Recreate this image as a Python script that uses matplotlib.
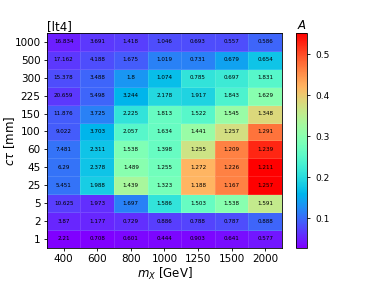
import numpy as np
import matplotlib
matplotlib.use("Agg")
import matplotlib.pyplot as plt

masses = ["400", "600", "800", "1000", "1250", "1500", "2000"]
ctaus = ["1000", "500", "300", "225", "150", "100", "60", "45", "25", "5", "2", "1"]

# acceptance (colour), rows top -> bottom
acc = np.array([
    [0.049, 0.065, 0.070, 0.080, 0.080, 0.080, 0.096],
    [0.065, 0.080, 0.091, 0.117, 0.117, 0.143, 0.175],
    [0.080, 0.096, 0.133, 0.169, 0.211, 0.222, 0.248],
    [0.065, 0.096, 0.159, 0.196, 0.190, 0.238, 0.300],
    [0.091, 0.117, 0.211, 0.264, 0.248, 0.316, 0.384],
    [0.091, 0.159, 0.248, 0.264, 0.316, 0.374, 0.473],
    [0.107, 0.175, 0.290, 0.264, 0.369, 0.463, 0.526],
    [0.107, 0.175, 0.300, 0.274, 0.421, 0.463, 0.552],
    [0.107, 0.185, 0.332, 0.280, 0.421, 0.463, 0.552],
    [0.070, 0.059, 0.117, 0.211, 0.264, 0.300, 0.358],
    [0.054, 0.054, 0.059, 0.070, 0.075, 0.080, 0.096],
    [0.028, 0.028, 0.033, 0.033, 0.033, 0.038, 0.044],
])

# numbers printed in the cells
labels = [
    ["16.834", "3.691", "1.418", "1.046", "0.693", "0.557", "0.586"],
    ["17.162", "4.188", "1.675", "1.019", "0.731", "0.679", "0.654"],
    ["15.378", "3.488", "1.8", "1.074", "0.785", "0.697", "1.831"],
    ["20.659", "5.498", "3.244", "2.178", "1.917", "1.843", "1.629"],
    ["11.876", "3.725", "2.225", "1.813", "1.522", "1.545", "1.348"],
    ["9.022", "3.703", "2.057", "1.634", "1.441", "1.257", "1.291"],
    ["7.481", "2.311", "1.538", "1.398", "1.255", "1.209", "1.239"],
    ["6.29", "2.378", "1.489", "1.255", "1.272", "1.226", "1.211"],
    ["5.451", "1.988", "1.439", "1.323", "1.188", "1.167", "1.257"],
    ["10.625", "1.973", "1.697", "1.586", "1.503", "1.538", "1.591"],
    ["3.87", "1.177", "0.729", "0.886", "0.788", "0.787", "0.888"],
    ["2.21", "0.708", "0.601", "0.444", "0.903", "0.641", "0.577"],
]

fig = plt.figure(figsize=(3.78, 2.84), dpi=100)
ax = fig.add_axes([0.124, 0.127, 0.622, 0.757])
cax = fig.add_axes([0.783, 0.127, 0.029, 0.757])

nr, nc = acc.shape
mesh = ax.pcolormesh(np.arange(nc + 1), np.arange(nr + 1), acc[::-1], cmap="rainbow",
                     vmin=0.028, vmax=0.552, edgecolors=(1, 1, 1, 0.12), linewidth=0.4)
for i in range(nr):
    for j in range(nc):
        ax.text(j + 0.5, nr - i - 0.5, labels[i][j], ha="center", va="center", fontsize=4.1)

ax.set_xticks(np.arange(nc) + 0.5)
ax.set_xticklabels(masses)
ax.set_yticks(np.arange(nr) + 0.5)
ax.set_yticklabels(ctaus[::-1])
ax.tick_params(labelsize=7.5, length=2.5, width=0.6, pad=2)
ax.set_xlabel("$m_X$ [GeV]", fontsize=8.5, labelpad=1)
ax.set_ylabel(r"$c\tau$ [mm]", fontsize=8.5)
ax.yaxis.set_label_coords(-0.125, 0.5)
ax.set_title("[lt4]", loc="left", fontsize=8.5, pad=2)
for s in ax.spines.values():
    s.set_linewidth(0.6)

cb = fig.colorbar(mesh, cax=cax)
cb.set_ticks([0.1, 0.2, 0.3, 0.4, 0.5])
cb.ax.tick_params(labelsize=6.5, length=2.5, width=0.6)
cb.outline.set_linewidth(0.6)
cax.set_title("$A$", fontsize=8.5, pad=3)

fig.savefig("out.png", dpi=100)
